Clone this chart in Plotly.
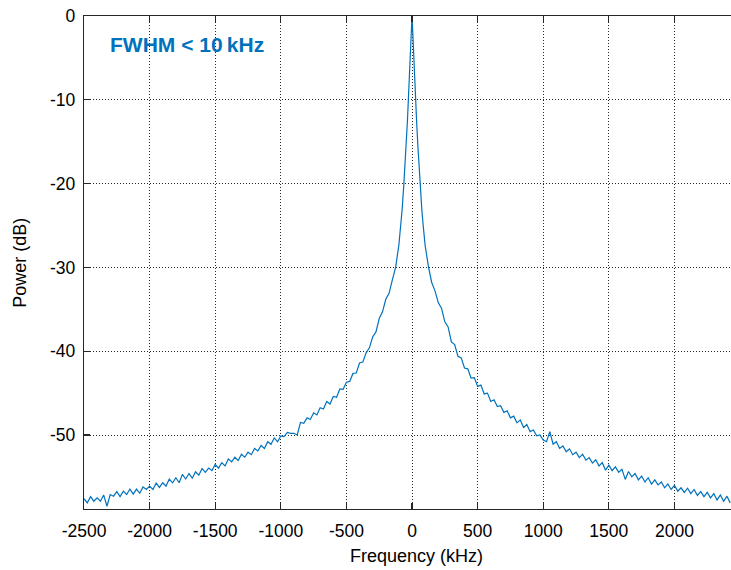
import plotly.graph_objects as go

# ---- data ----
freq_left = [-2500, -2475, -2450, -2425, -2400, -2375, -2350, -2325, -2300, -2275,
             -2250, -2225, -2200, -2175, -2150, -2125, -2100, -2075, -2050, -2025,
             -2000, -1975, -1950, -1925, -1900, -1875, -1850, -1825, -1800, -1775,
             -1750, -1725, -1700, -1675, -1650, -1625, -1600, -1575, -1550, -1525,
             -1500, -1475, -1450, -1425, -1400, -1375, -1350, -1325, -1300, -1275,
             -1250, -1225, -1200, -1175, -1150, -1125, -1100, -1075, -1050, -1025,
             -1000, -975, -950, -925, -900, -875, -850, -825, -800, -775,
             -750, -725, -700, -675, -650, -625, -600, -575, -550, -525,
             -500, -475, -450, -425, -400, -375, -350, -325, -300, -275,
             -250, -225, -200]
power_left = [-57.6, -58.1, -57.35, -57.9, -57.5, -57.9, -57.15, -58.5, -57.1, -57.3,
              -56.75, -57.35, -56.7, -57.1, -56.45, -57.05, -56.45, -56.95, -56.2, -56.5,
              -56.1, -56.5, -55.75, -56.25, -55.7, -56.1, -55.25, -55.7, -55.1, -55.7,
              -54.7, -55.25, -54.6, -55.15, -54.4, -54.8, -54.0, -54.45, -53.95, -54.25,
              -53.5, -53.95, -53.3, -53.7, -52.85, -53.2, -52.65, -53.05, -52.3, -52.65,
              -52.05, -52.35, -51.6, -51.9, -51.25, -51.6, -50.8, -51.1, -50.35, -50.8,
              -50.1, -50.2, -49.7, -49.8, -49.8, -50.0, -48.5, -48.6, -47.95, -48.15,
              -47.35, -47.6, -46.75, -46.9, -46.0, -46.3, -45.4, -45.5, -44.5, -44.55,
              -43.7, -43.6, -42.65, -42.6, -41.4, -41.3, -40.2, -39.6, -38.3, -37.7,
              -36.1, -35.3, -33.8]

freq_center = [-175, -150, -125, -100, -85, -75, -62, -55, -45, -35, -28, -20, -15, -10, -6, -3,
               0, 3, 6, 10, 15, 20, 28, 35, 45, 55, 62, 75, 85, 100, 125, 150, 175]
power_center = [-33.1, -31.5, -30.0, -27.3, -25.0, -23.0, -20.0, -18.3, -15.5, -12.5, -10.0, -7.5,
                -5.8, -4.0, -2.3, -1.0,
                0.0, -1.0, -2.3, -4.0, -5.8, -7.6, -10.1, -12.6, -15.6, -18.5, -20.2, -23.2,
                -25.0, -27.4, -29.9, -31.8, -32.8]

freq_right = [200, 225, 250, 275, 300, 325, 350, 375, 400, 425,
              450, 475, 500, 525, 550, 575, 600, 625, 650, 675,
              700, 725, 750, 775, 800, 825, 850, 875, 900, 925,
              950, 975, 1000, 1025, 1050, 1075, 1100, 1125, 1150, 1175,
              1200, 1225, 1250, 1275, 1300, 1325, 1350, 1375, 1400, 1425,
              1450, 1475, 1500, 1525, 1550, 1575, 1600, 1625, 1650, 1675,
              1700, 1725, 1750, 1775, 1800, 1825, 1850, 1875, 1900, 1925,
              1950, 1975, 2000, 2025, 2050, 2075, 2100, 2125, 2150, 2175,
              2200, 2225, 2250, 2275, 2300, 2325, 2350, 2375, 2400, 2425]
power_right = [-34.2, -34.9, -36.5, -37.1, -38.9, -39.2, -40.6, -40.8, -42.0, -42.1,
               -43.2, -43.15, -44.2, -44.05, -45.1, -45.0, -46.0, -45.8, -46.6, -46.5,
               -47.3, -47.1, -47.95, -47.75, -48.55, -48.2, -49.1, -48.75, -49.6, -49.4,
               -50.1, -50.0, -50.6, -50.8, -49.6, -51.1, -50.8, -51.6, -51.3, -52.0,
               -51.65, -52.35, -52.05, -52.7, -52.3, -53.0, -52.7, -53.35, -52.95, -53.7,
               -53.3, -54.2, -53.6, -54.25, -53.8, -54.45, -54.1, -55.3, -54.35, -55.0,
               -54.6, -55.35, -54.9, -55.6, -55.1, -55.85, -55.35, -55.95, -55.6, -56.3,
               -55.85, -56.5, -56.0, -56.7, -56.3, -56.85, -56.35, -57.0, -56.5, -57.2,
               -56.75, -57.35, -56.85, -57.5, -57.0, -57.75, -57.15, -57.9, -57.3, -58.1]

x_ticks = [-2500, -2000, -1500, -1000, -500, 0, 500, 1000, 1500, 2000]
x_tick_labels = ["-2500", "-2000", "-1500", "-1000", "-500", "0", "500", "1000", "1500", "2000"]
y_ticks = [0, -10, -20, -30, -40, -50]
y_tick_labels = ["0", "-10", "-20", "-30", "-40", "-50"]

annotation_text = "FWHM &lt; 10\u2009kHz"

# ---- figure ----
BLUE = "#0072BD"
AX = "#262626"
FONT = "Liberation Sans, Arial, Helvetica, sans-serif"

freq = freq_left + freq_center + freq_right
power = power_left + power_center + power_right

fig = go.Figure()
fig.add_trace(go.Scatter(x=freq, y=power, mode="lines",
                         line=dict(color=BLUE, width=1.2), showlegend=False,
                         hoverinfo="skip"))

axis_common = dict(
    showline=True, linecolor=AX, linewidth=1.3,
    ticks="inside", ticklen=6, tickcolor=AX, tickwidth=1.3,
    showgrid=True, gridcolor=AX, gridwidth=1, griddash="1px,2px",
    zeroline=False, ticklabeloverflow="allow",
    tickfont=dict(family=FONT, size=17.5, color="#000000"),
)

fig.update_xaxes(range=[-2500, 2431], tickvals=x_ticks, ticktext=x_tick_labels,
                 ticklabelstandoff=6, mirror="ticks", **axis_common)
fig.update_yaxes(range=[-58.83, 0], tickvals=y_ticks, ticktext=y_tick_labels,
                 ticklabelstandoff=4, mirror=False, **axis_common)

fig.add_annotation(text="Frequency (kHz)", xref="paper", yref="paper",
                   x=0.514, y=-0.0947, xanchor="center", yanchor="middle",
                   showarrow=False, font=dict(family=FONT, size=18, color="#000000"))
fig.add_annotation(text="Power (dB)", xref="paper", yref="paper",
                   x=-0.1, y=0.5, xanchor="center", yanchor="middle", textangle=-90,
                   showarrow=False, font=dict(family=FONT, size=18, color="#000000"))
fig.add_annotation(text="<b>" + annotation_text + "</b>", xref="paper", yref="paper",
                   x=0.037, y=0.943, xanchor="left", yanchor="middle",
                   showarrow=False, font=dict(family=FONT, size=21, color=BLUE))

fig.update_layout(width=731, height=570,
                  margin=dict(l=84, r=0, t=16, b=61),
                  paper_bgcolor="white", plot_bgcolor="white",
                  font=dict(family=FONT))

# remove the default page margin so the figure fills the window exactly
fig.write_html("out.html",
               config={"displayModeBar": False, "staticPlot": True},
               post_script="document.body.style.margin='0';document.body.style.overflow='hidden';")
